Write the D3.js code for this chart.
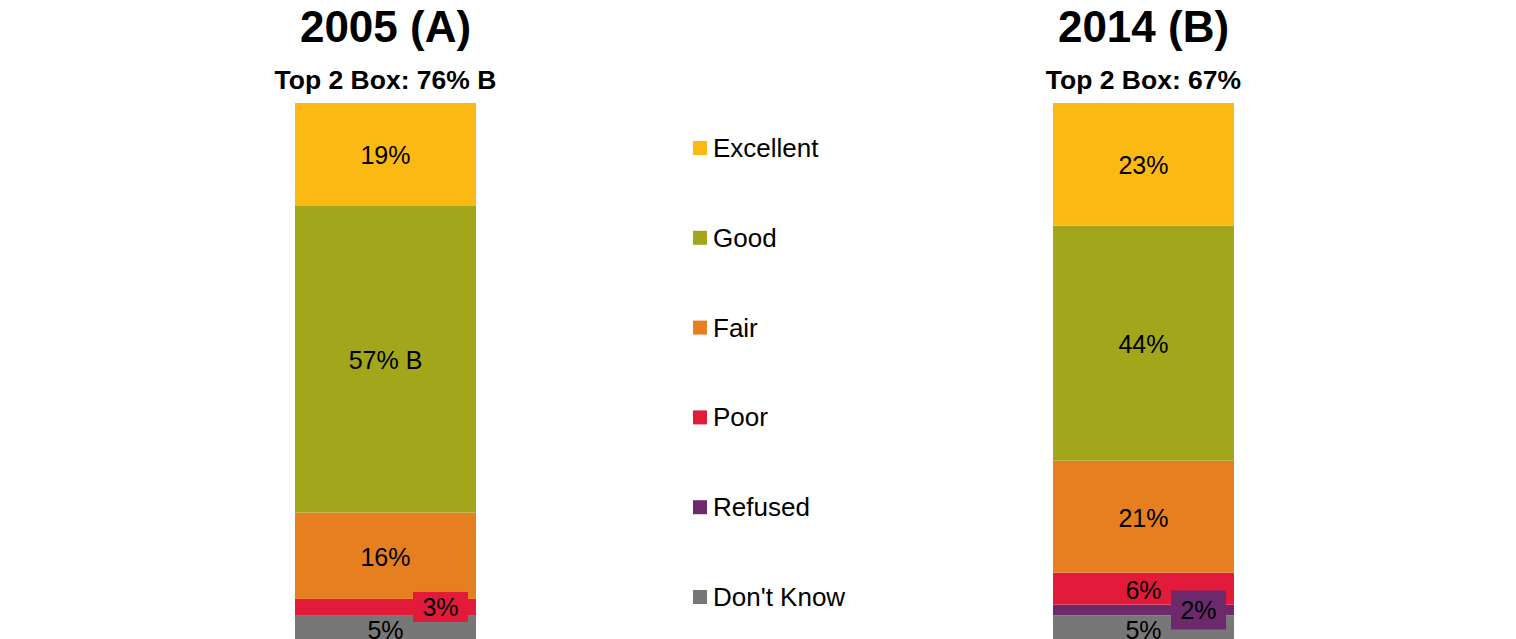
<!DOCTYPE html>
<html>
<head>
<meta charset="utf-8">
<script src="https://cdn.jsdelivr.net/npm/d3@7/dist/d3.min.js"></script>
<style>
  html, body { margin: 0; padding: 0; background: #fff; overflow: hidden; }
  svg { display: block; font-family: "Liberation Sans", Arial, sans-serif; }
</style>
</head>
<body>
<svg id="chart" width="1516" height="639"></svg>
<script>
const years = ["2005 (A)", "2014 (B)"];
const subtitles = ["Top 2 Box: 76% B", "Top 2 Box: 67%"];
const categories = ["Excellent", "Good", "Fair", "Poor", "Refused", "Don't Know"];
const values2005 = [19, 57, 16, 3, 0, 5];
const values2014 = [23, 44, 21, 6, 2, 5];
const suffix2005 = ["", " B", "", "", "", ""];
const suffix2014 = ["", "", "", "", "", ""];
const colors = ["#FDB913", "#A2A61A", "#E57F20", "#E31B3B", "#6C2A6C", "#777777"];

const W = 1516, H = 639;
const svg = d3.select("#chart");
svg.append("rect").attr("width", W).attr("height", H).attr("fill", "#fff");

const rows = years.map((yr, i) => {
  const vals = i === 0 ? values2005 : values2014;
  const o = { year: yr };
  categories.forEach((c, j) => o[c] = vals[j]);
  return o;
});
const suffixes = [suffix2005, suffix2014];

const x = d3.scalePoint().domain(years).range([385.5, 1143.5]);
const barW = 181;
const y = d3.scaleLinear().domain([0, 1]).range([642, 103]);
const color = d3.scaleOrdinal().domain(categories).range(colors);

const stack = d3.stack()
  .keys(categories.slice().reverse())
  .offset(d3.stackOffsetExpand);
const series = stack(rows);

const g = svg.append("g");
series.forEach(s => {
  s.forEach((d, i) => {
    const v = d.data[s.key];
    if (!v) return;
    g.append("rect")
      .attr("x", x(d.data.year) - barW / 2)
      .attr("y", y(d[1]))
      .attr("width", barW)
      .attr("height", y(d[0]) - y(d[1]))
      .attr("fill", color(s.key));
  });
});

// labels
series.forEach(s => {
  const ci = categories.indexOf(s.key);
  s.forEach((d, i) => {
    const v = d.data[s.key];
    if (!v) return;
    const cx = x(d.data.year);
    const cy = (y(d[0]) + y(d[1])) / 2;
    const txt = v + "%" + suffixes[i][ci];
    if (v <= 3) {
      const bx = cx + 55;
      const bh = v < 3 ? 39 : 30;
      g.append("rect")
        .attr("x", bx - 27.5).attr("y", cy - bh / 2)
        .attr("width", 55).attr("height", bh)
        .attr("fill", color(s.key));
      g.append("text")
        .attr("x", bx).attr("y", cy)
        .attr("text-anchor", "middle").attr("dominant-baseline", "central")
        .attr("font-size", 25).attr("fill", "#000")
        .text(txt);
    } else {
      g.append("text")
        .attr("x", cx).attr("y", cy + 1)
        .attr("text-anchor", "middle").attr("dominant-baseline", "central")
        .attr("font-size", 25).attr("fill", "#000")
        .text(txt);
    }
  });
});

// titles
years.forEach((yr, i) => {
  svg.append("text")
    .attr("x", x(yr)).attr("y", 42)
    .attr("text-anchor", "middle")
    .attr("font-size", 44).attr("font-weight", "bold")
    .text(yr);
  svg.append("text")
    .attr("x", x(yr)).attr("y", 89)
    .attr("text-anchor", "middle")
    .attr("font-size", 26.5).attr("font-weight", "bold")
    .text(subtitles[i]);
});

// legend
const ly = d3.scalePoint().domain(categories).range([148, 597]);
const leg = svg.append("g");
categories.forEach(c => {
  leg.append("rect")
    .attr("x", 693).attr("y", ly(c) - 7)
    .attr("width", 14).attr("height", 14)
    .attr("fill", color(c));
  leg.append("text")
    .attr("x", 713).attr("y", ly(c))
    .attr("dominant-baseline", "central")
    .attr("font-size", 26).attr("fill", "#000")
    .text(c);
});
</script>
</body>
</html>
